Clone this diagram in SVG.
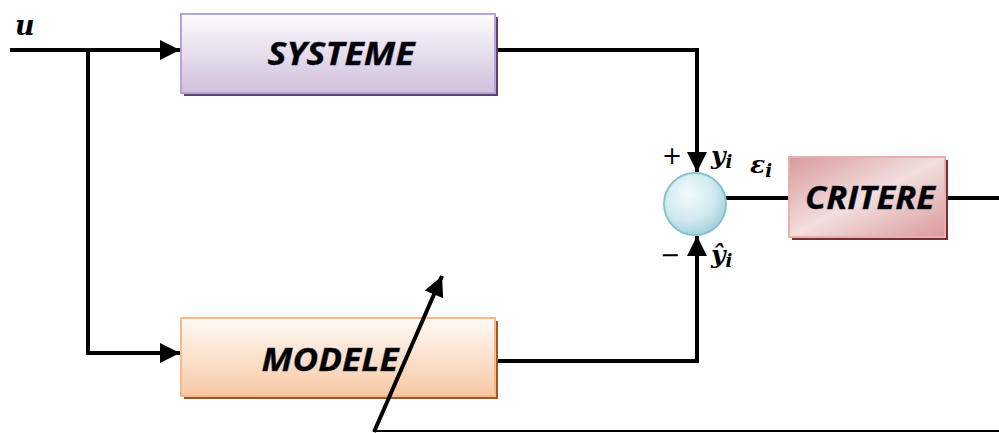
<svg xmlns="http://www.w3.org/2000/svg" width="999" height="433" viewBox="0 0 999 433">
  <defs>
    <linearGradient id="gSys" x1="0" y1="0" x2="0" y2="1">
      <stop offset="0" stop-color="#fdfbfe"/>
      <stop offset="1" stop-color="#cfc0dc"/>
    </linearGradient>
    <linearGradient id="gMod" x1="0" y1="0" x2="0" y2="1">
      <stop offset="0" stop-color="#fffaf6"/>
      <stop offset="1" stop-color="#f8c8a4"/>
    </linearGradient>
    <linearGradient id="gCrit" x1="0" y1="0" x2="1" y2="1">
      <stop offset="0" stop-color="#d99a9a"/>
      <stop offset="0.5" stop-color="#f3dede"/>
      <stop offset="1" stop-color="#d99a9a"/>
    </linearGradient>
    <radialGradient id="gSum" cx="0.4" cy="0.35" r="0.7">
      <stop offset="0" stop-color="#f4fbfd"/>
      <stop offset="0.6" stop-color="#cfe9ef"/>
      <stop offset="1" stop-color="#9fcfda"/>
    </radialGradient>
    <marker id="arrBig" viewBox="0 0 10 10" refX="10" refY="5" markerWidth="22" markerHeight="20" orient="auto" markerUnits="userSpaceOnUse">
      <path d="M0,0 L10,5 L0,10 z" fill="#000"/>
    </marker>
  </defs>
  <style>
    .wire { fill: none; stroke: #000; stroke-width: 4; }
    .thin { fill: none; stroke: #000; stroke-width: 2; }
    .lbl { font-family: "Open Sans", "Liberation Sans", sans-serif; font-weight: bold; font-style: italic; font-size: 32px; fill: #000; text-anchor: middle; stroke: #1a2a4a; stroke-width: 0.4; }
    .math { font-family: "DejaVu Serif", "Liberation Serif", serif; font-weight: bold; font-style: italic; fill: #000; }
    .sign { font-family: "DejaVu Sans", "Liberation Sans", sans-serif; font-size: 24px; fill: #000; }
  </style>

  <!-- signal wires -->
  <g id="connectors">
    <path class="wire" d="M10,50 H180" marker-end="url(#arrBig)"/>
    <path class="wire" d="M88,50 V353 H180" marker-end="url(#arrBig)"/>
    <path class="wire" d="M497,50 H697 V172" marker-end="url(#arrBig)"/>
    <path class="wire" d="M497,361 H697 V236" marker-end="url(#arrBig)"/>
    <path class="wire" d="M726,198 H789"/>
    <path class="wire" d="M948,198 H999"/>
    <path class="thin" d="M373,431 H999"/>
  </g>

  <!-- SYSTEME block -->
  <g id="systeme">
    <rect x="184" y="17" width="314" height="79" fill="#5a4470"/>
    <rect x="181" y="14" width="314" height="79" fill="url(#gSys)" stroke="#b7a4cf" stroke-width="2"/>
    <text class="lbl" x="341" y="65" textLength="147" lengthAdjust="spacingAndGlyphs">SYSTEME</text>
  </g>

  <!-- MODELE block -->
  <g id="modele">
    <rect x="184" y="321" width="314" height="78" fill="#9c5a28"/>
    <rect x="181" y="318" width="314" height="78" fill="url(#gMod)" stroke="#f5b98a" stroke-width="2"/>
    <text class="lbl" x="330" y="371" textLength="137" lengthAdjust="spacingAndGlyphs">MODELE</text>
  </g>

  <!-- summing junction -->
  <g id="sum">
    <circle cx="695" cy="204" r="31" fill="url(#gSum)" stroke="#86c4d0" stroke-width="2"/>
    <text class="sign" x="662" y="164">+</text>
    <text class="sign" x="660" y="263">−</text>
    <text class="math" x="711" y="164" font-size="25">y<tspan font-size="18" dy="4">i</tspan></text>
    <text class="math" x="711" y="263" font-size="25">ŷ<tspan font-size="18" dy="4">i</tspan></text>
    <text class="math" x="750" y="173" font-size="25">ε<tspan font-size="18" dy="4">i</tspan></text>
  </g>

  <!-- CRITERE block -->
  <g id="critere">
    <rect x="792" y="160" width="156" height="80" fill="#7a2e2e"/>
    <rect x="789" y="157" width="156" height="80" fill="url(#gCrit)" stroke="#e8b0b0" stroke-width="2"/>
    <text class="lbl" x="870" y="209" textLength="130" lengthAdjust="spacingAndGlyphs">CRITERE</text>
  </g>

  <!-- input label -->
  <g id="input">
    <text class="math" x="15" y="35" font-size="27">u</text>
  </g>

  <!-- parameter adjustment arrow crossing the model -->
  <g id="adjust">
    <path class="wire" d="M374,432 L442,276" marker-end="url(#arrBig)"/>
  </g>
</svg>
